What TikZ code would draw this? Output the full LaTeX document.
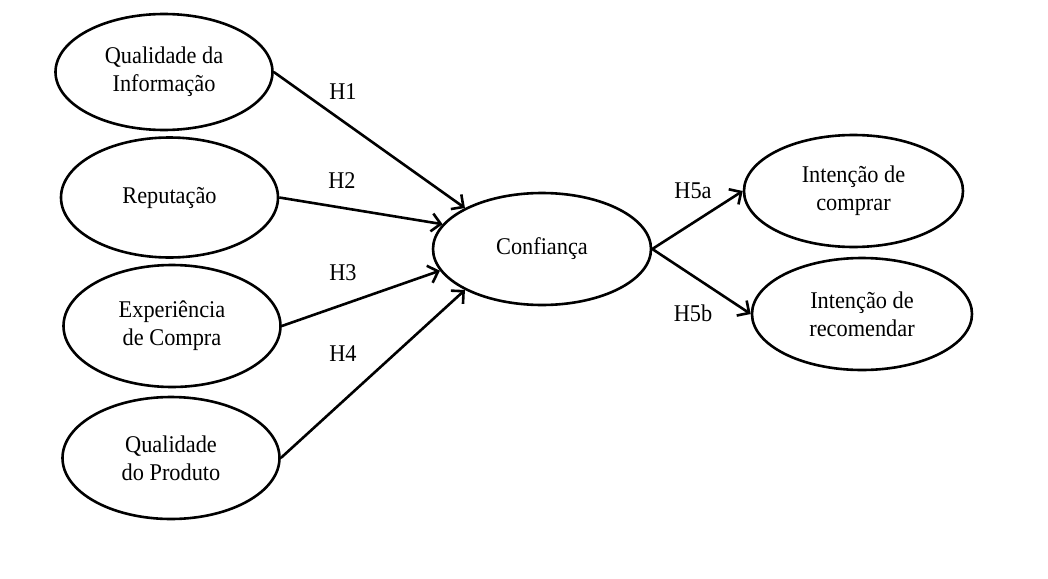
\documentclass[tikz,border=0pt]{standalone}
\usepackage{fontspec}
\setmainfont{Liberation Serif}[FakeStretch=0.93]
\usetikzlibrary{shapes.geometric,arrows.meta}
\begin{document}
\begin{tikzpicture}[x=1pt,y=-1pt,
  ell/.style={ellipse,draw,line width=2.6pt,minimum width=217pt,minimum height=116pt,inner sep=0pt,align=center,font=\fontsize{24}{28}\selectfont},
  lab/.style={font=\fontsize{24}{28}\selectfont,inner sep=0pt},
  arr/.style={line width=2.6pt,-{Straight Barb[length=9pt,width=18pt,line width=2.6pt]}}]
\useasboundingbox (0,0) rectangle (1048,578);
\node[ell] (qi) at (164,72) {Qualidade da\\Informação};
\node[ell,minimum height=120pt] (rep) at (169.5,197.5) {Reputação};
\node[ell,minimum height=122pt] (exp) at (172,326) {Experiência\\de Compra};
\node[ell,minimum height=122pt] (qp) at (171,458) {Qualidade\\do Produto};
\node[ell,minimum width=218pt,minimum height=112pt] (conf) at (542,249) {Confiança};
\node[ell,minimum width=219pt,minimum height=112pt] (ic) at (853.5,191) {Intenção de\\comprar};
\node[ell,minimum width=220pt,minimum height=112pt] (ir) at (862,314) {Intenção de\\recomendar};
\draw[arr] (qi.east) -- (conf.152);
\draw[arr] (rep.east) -- (conf.166);
\draw[arr] (exp.east) -- (conf.192);
\draw[arr] (qp.east) -- (conf.208);
\draw[arr] (conf.east) -- (ic.west);
\draw[arr] (conf.east) -- (ir.west);
\node[lab] (h1) at (343,92) {H1};
\node[lab] (h2) at (342,181) {H2};
\node[lab] (h3) at (343,273) {H3};
\node[lab] (h4) at (343,354) {H4};
\node[lab] (h5a) at (693,191) {H5a};
\node[lab] (h5b) at (693,313) {H5b};
\end{tikzpicture}
\end{document}
